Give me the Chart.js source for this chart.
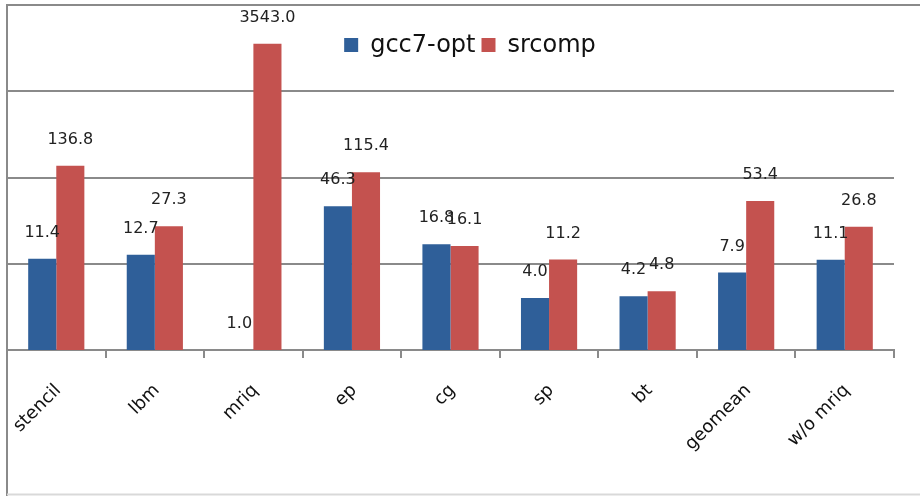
<!DOCTYPE html>
<html>
<head>
<meta charset="utf-8">
<script src="https://cdn.jsdelivr.net/npm/chart.js@4/dist/chart.umd.min.js"></script>
<style>
  html, body { margin: 0; padding: 0; background: #ffffff; }
  #wrap { width: 920px; height: 496px; }
</style>
</head>
<body>
<div id="wrap"><canvas id="c" width="920" height="496"></canvas></div>
<script>
// Benchmarks and speedups (log scale)
const categories = ['stencil', 'lbm', 'mriq', 'ep', 'cg', 'sp', 'bt', 'geomean', 'w/o mriq'];
const gccOpt = [11.4, 12.7, 1.0, 46.3, 16.8, 4.0, 4.2, 7.9, 11.1];
const srcomp = [136.8, 27.3, 3543.0, 115.4, 16.1, 11.2, 4.8, 53.4, 26.8];
const seriesNames = ['gcc7-opt', 'srcomp'];
const decadeTicks = [1, 10, 100, 1000, 10000];

const BLUE = '#2f5f99';
const RED = '#c4524f';
const GRID = '#8a8a8a';
const FONT = '"DejaVu Sans", sans-serif';

// Outer frame of the figure
const framePlugin = {
  id: 'frame',
  beforeDraw(chart) {
    const { ctx, chartArea } = chart;
    ctx.save();
    ctx.lineWidth = 2;
    ctx.strokeStyle = GRID;
    ctx.beginPath();
    ctx.moveTo(chartArea.left, chartArea.top);
    ctx.lineTo(chart.width, chartArea.top);
    ctx.moveTo(chartArea.left, chartArea.top);
    ctx.lineTo(chartArea.left, chart.height);
    ctx.stroke();
    ctx.strokeStyle = '#d9d9d9';
    ctx.beginPath();
    ctx.moveTo(chartArea.left, chart.height - 1.5);
    ctx.lineTo(chart.width, chart.height - 1.5);
    ctx.stroke();
    ctx.restore();
  }
};

// Value labels above each bar
const valueLabels = {
  id: 'valueLabels',
  afterDatasetsDraw(chart) {
    const { ctx } = chart;
    ctx.save();
    ctx.font = '16px ' + FONT;
    ctx.fillStyle = '#222222';
    ctx.textAlign = 'center';
    ctx.textBaseline = 'middle';
    chart.data.datasets.forEach((ds, di) => {
      const meta = chart.getDatasetMeta(di);
      meta.data.forEach((bar, i) => {
        ctx.fillText(ds.data[i].toFixed(1), bar.x, bar.y - 26);
      });
    });
    ctx.restore();
  }
};

// Legend drawn inside the plot, near the top
const insideLegend = {
  id: 'insideLegend',
  afterDraw(chart) {
    const { ctx } = chart;
    ctx.save();
    ctx.font = '24px ' + FONT;
    ctx.textBaseline = 'middle';
    ctx.textAlign = 'left';
    const box = 14, gapText = 12, gapItem = 6;
    const items = chart.data.datasets.map(d => ({ label: d.label, color: d.backgroundColor }));
    let total = 0;
    items.forEach((it, k) => {
      total += box + gapText + ctx.measureText(it.label).width + (k < items.length - 1 ? gapItem : 0);
    });
    const cx = 470, cy = 45;
    let x = cx - total / 2;
    items.forEach(it => {
      ctx.fillStyle = it.color;
      ctx.fillRect(x, cy - box / 2, box, box);
      x += box + gapText;
      ctx.fillStyle = '#111111';
      ctx.fillText(it.label, x, cy + 1);
      x += ctx.measureText(it.label).width + gapItem;
    });
    ctx.restore();
  }
};

new Chart(document.getElementById('c'), {
  type: 'bar',
  data: {
    labels: categories,
    datasets: [
      { label: seriesNames[0], data: gccOpt, backgroundColor: BLUE },
      { label: seriesNames[1], data: srcomp, backgroundColor: RED }
    ]
  },
  options: {
    responsive: false,
    animation: false,
    devicePixelRatio: 1,
    layout: { padding: { top: 5, left: 7, right: 26, bottom: 0 } },
    datasets: { bar: { barPercentage: 1.0, categoryPercentage: 0.57 } },
    plugins: {
      legend: { display: false },
      tooltip: { enabled: false }
    },
    scales: {
      x: {
        grid: {
          offset: true,
          drawOnChartArea: false,
          drawTicks: true,
          tickLength: 8,
          color: GRID,
          lineWidth: 2
        },
        border: { color: GRID, width: 2 },
        ticks: {
          color: '#111111',
          font: { family: FONT, size: 18 },
          maxRotation: 45,
          minRotation: 45,
          padding: 22,
          labelOffset: 2
        },
        afterFit(scale) {
          scale.height = 146;
          scale.paddingLeft = 0;
          scale.paddingRight = 0;
        }
      },
      y: {
        type: 'logarithmic',
        min: 1,
        max: 10000,
        afterBuildTicks(scale) {
          scale.ticks = decadeTicks.map(v => ({ value: v }));
        },
        grid: { color: GRID, lineWidth: 2, drawTicks: false },
        border: { color: GRID, width: 2 },
        ticks: { display: false },
        afterFit(scale) { scale.width = 0; }
      }
    }
  },
  plugins: [framePlugin, valueLabels, insideLegend]
});
</script>
</body>
</html>
